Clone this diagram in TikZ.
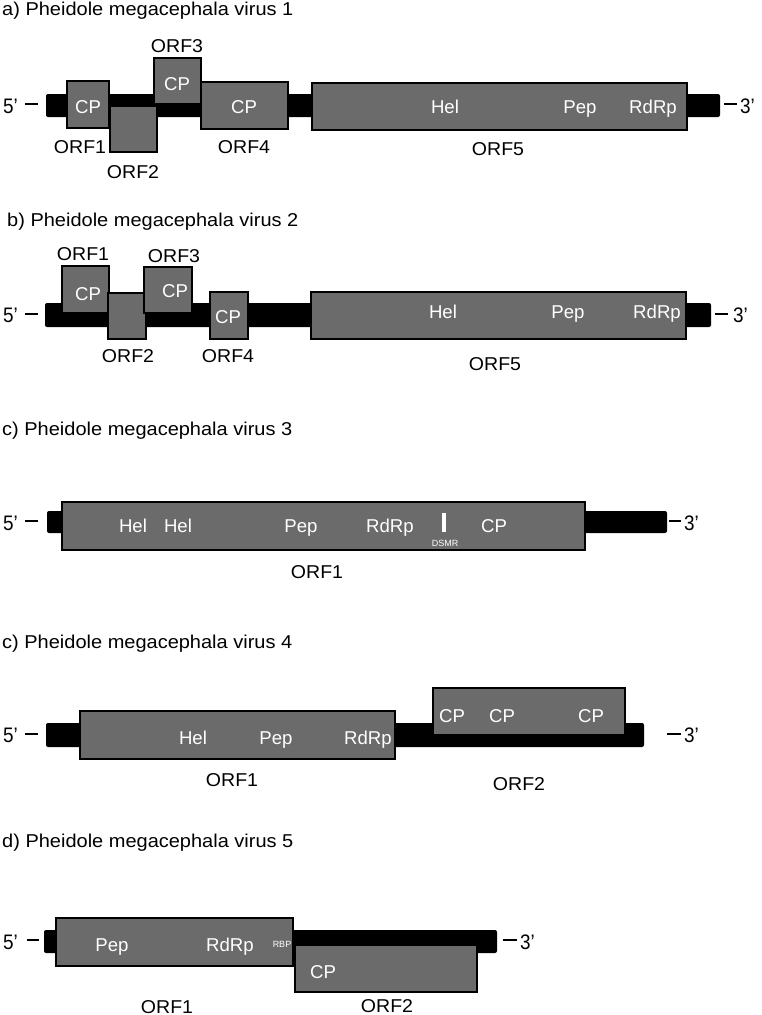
\documentclass[tikz,border=0pt]{standalone}
\usepackage{fontspec}
\usepackage{graphicx}
\setmainfont{Liberation Sans}
\usetikzlibrary{fit}
\definecolor{orfgray}{HTML}{6B6B6B}
\newcommand\titlestretch[1]{\scalebox{1.075}[1]{#1}}
\newcommand\lblstretch[1]{\scalebox{1.05}[1]{#1}}
\newcommand\termstretch[1]{\scalebox{0.9}[1]{#1}}
\tikzset{
 orfbox/.style={draw=black, line width=1.5pt, fill=orfgray, inner sep=0pt},
 rnabar/.style={fill=black, rounded corners=2pt, inner sep=0pt},
 ttl/.style={anchor=base west, inner sep=0pt, font=\fontsize{18.6}{20}\selectfont},
 lbl/.style={anchor=base, inner sep=0pt, font=\fontsize{18.6}{20}\selectfont},
 intext/.style={anchor=base, inner sep=0pt, text=white, font=\fontsize{18.6}{20}\selectfont},
 tinytext/.style={anchor=base, inner sep=0pt, text=white, font=\fontsize{9}{10}\selectfont},
 termlbl/.style={anchor=base west, inner sep=0pt, font=\fontsize{21}{22}\selectfont},
 termline/.style={line width=1.5pt},
}
\newcommand\gbox[5]{\node[orfbox, fit={(#2,#3) (#4,#5)}] (#1) {};}
\newcommand\orflbl[3]{\node[lbl] (#1) at (#2) {\lblstretch{#3}};}
\begin{document}
\begin{tikzpicture}[x=1pt,y=-1pt]
\useasboundingbox (0,0) rectangle (762,1015);
\fill[white] (0,0) rectangle (762,1015);

% ---------- a) virus 1
\node[ttl] (ta) at (2,15) {\titlestretch{a) Pheidole megacephala virus 1}};
\node[rnabar, fit={(46,94) (720,117)}] (barA) {};
\node[termlbl] (a5) at (3,113) {\termstretch{5’}};
\coordinate (a5l) at (25,104); \coordinate (a5r) at (38,104);
\draw[termline] (a5l) -- (a5r);
\coordinate (a3l) at (724,104); \coordinate (a3r) at (737,104);
\draw[termline] (a3l) -- (a3r);
\node[termlbl] (a3) at (740,113) {\termstretch{3’}};
\gbox{aorf1}{67}{81}{109}{128}
\gbox{aorf2}{110}{106}{157}{152}
\gbox{aorf3}{154}{58}{201}{104}
\gbox{aorf4}{201}{82}{288}{129}
\gbox{aorf5}{312}{83}{687}{130}
\node[intext] (acp1) at (88,113) {CP};
\node[intext] (acp3) at (177,90) {CP};
\node[intext] (acp4) at (244,113) {CP};
\node[intext] (ahel) at (445,113) {Hel};
\node[intext] (apep) at (580,113) {Pep};
\node[intext] (ardrp) at (653,113) {RdRp};
\orflbl{al1}{80,153}{ORF1}
\orflbl{al2}{133,178}{ORF2}
\orflbl{al3}{177,52}{ORF3}
\orflbl{al4}{244,153}{ORF4}
\orflbl{al5}{498,155}{ORF5}

% ---------- b) virus 2
\node[ttl] (tb) at (7,226) {\titlestretch{b) Pheidole megacephala virus 2}};
\node[rnabar, fit={(45,303) (711,327)}] (barB) {};
\node[termlbl] (b5) at (3,322) {\termstretch{5’}};
\coordinate (b5l) at (25,314); \coordinate (b5r) at (38,314);
\draw[termline] (b5l) -- (b5r);
\coordinate (b3l) at (715,314); \coordinate (b3r) at (728,314);
\draw[termline] (b3l) -- (b3r);
\node[termlbl] (b3) at (733,322) {\termstretch{3’}};
\gbox{borf1}{62}{266}{109}{313}
\gbox{borf2}{108}{293}{146}{339}
\gbox{borf3}{144}{267}{192}{313}
\gbox{borf4}{210}{292}{248}{339}
\gbox{borf5}{311}{292}{686}{339}
\node[intext] (bcp1) at (88,300) {CP};
\node[intext] (bcp3) at (175,297) {CP};
\node[intext] (bcp4) at (228,323) {CP};
\node[intext] (bhel) at (443,318) {Hel};
\node[intext] (bpep) at (568,318) {Pep};
\node[intext] (brdrp) at (657,318) {RdRp};
\orflbl{bl1}{83,260}{ORF1}
\orflbl{bl3}{174,262}{ORF3}
\orflbl{bl2}{128,362}{ORF2}
\orflbl{bl4}{228,362}{ORF4}
\orflbl{bl5}{495,370}{ORF5}

% ---------- c) virus 3
\node[ttl] (tc) at (2,435) {\titlestretch{c) Pheidole megacephala virus 3}};
\node[rnabar, fit={(47,511) (667,533)}] (barC) {};
\node[termlbl] (c5) at (3,530) {\termstretch{5’}};
\coordinate (c5l) at (25,521); \coordinate (c5r) at (38,521);
\draw[termline] (c5l) -- (c5r);
\coordinate (c3l) at (669,521); \coordinate (c3r) at (681,521);
\draw[termline] (c3l) -- (c3r);
\node[termlbl] (c3) at (684,530) {\termstretch{3’}};
\gbox{corf1}{62}{502}{585}{550}
\node[intext] (chel1) at (133,532) {Hel};
\node[intext] (chel2) at (178,532) {Hel};
\node[intext] (cpep) at (301,532) {Pep};
\node[intext] (crdrp) at (390,532) {RdRp};
\node[fill=white, inner sep=0pt, fit={(442,513) (445.5,532)}] (cmark) {};
\node[tinytext] (cdsmr) at (445,546) {DSMR};
\node[intext] (ccp) at (494,532) {CP};
\orflbl{cl1}{317,578}{ORF1}

% ---------- c) virus 4
\node[ttl] (td) at (2,648) {\titlestretch{c) Pheidole megacephala virus 4}};
\node[rnabar, fit={(46,723) (644,747)}] (barD) {};
\node[termlbl] (d5) at (3,742) {\termstretch{5’}};
\coordinate (d5l) at (25,734); \coordinate (d5r) at (38,734);
\draw[termline] (d5l) -- (d5r);
\coordinate (d3l) at (667,734); \coordinate (d3r) at (681,734);
\draw[termline] (d3l) -- (d3r);
\node[termlbl] (d3) at (684,742) {\termstretch{3’}};
\gbox{dorf1}{80}{711}{395}{759}
\gbox{dorf2}{433}{688}{625}{735}
\node[intext] (dhel) at (193,744) {Hel};
\node[intext] (dpep) at (276,744) {Pep};
\node[intext] (drdrp) at (368,744) {RdRp};
\node[intext] (dcp1) at (452,722) {CP};
\node[intext] (dcp2) at (502,722) {CP};
\node[intext] (dcp3) at (591,722) {CP};
\orflbl{dl1}{232,786}{ORF1}
\orflbl{dl2}{519,790}{ORF2}

% ---------- d) virus 5
\node[ttl] (te) at (2,847) {\titlestretch{d) Pheidole megacephala virus 5}};
\node[rnabar, fit={(44,930) (497,953)}] (barE) {};
\node[termlbl] (e5) at (3,949) {\termstretch{5’}};
\coordinate (e5l) at (27,940); \coordinate (e5r) at (39,940);
\draw[termline] (e5l) -- (e5r);
\coordinate (e3l) at (503,940); \coordinate (e3r) at (517,940);
\draw[termline] (e3l) -- (e3r);
\node[termlbl] (e3) at (520,949) {\termstretch{3’}};
\gbox{eorf1}{56}{918}{293}{966}
\gbox{eorf2}{295}{945}{477}{992}
\node[intext] (epep) at (112,951) {Pep};
\node[intext] (erdrp) at (230,951) {RdRp};
\node[tinytext] (erbp) at (282,947) {RBP};
\node[intext] (ecp) at (323,978) {CP};
\orflbl{el1}{167,1013}{ORF1}
\orflbl{el2}{387,1012}{ORF2}
\end{tikzpicture}
\end{document}
